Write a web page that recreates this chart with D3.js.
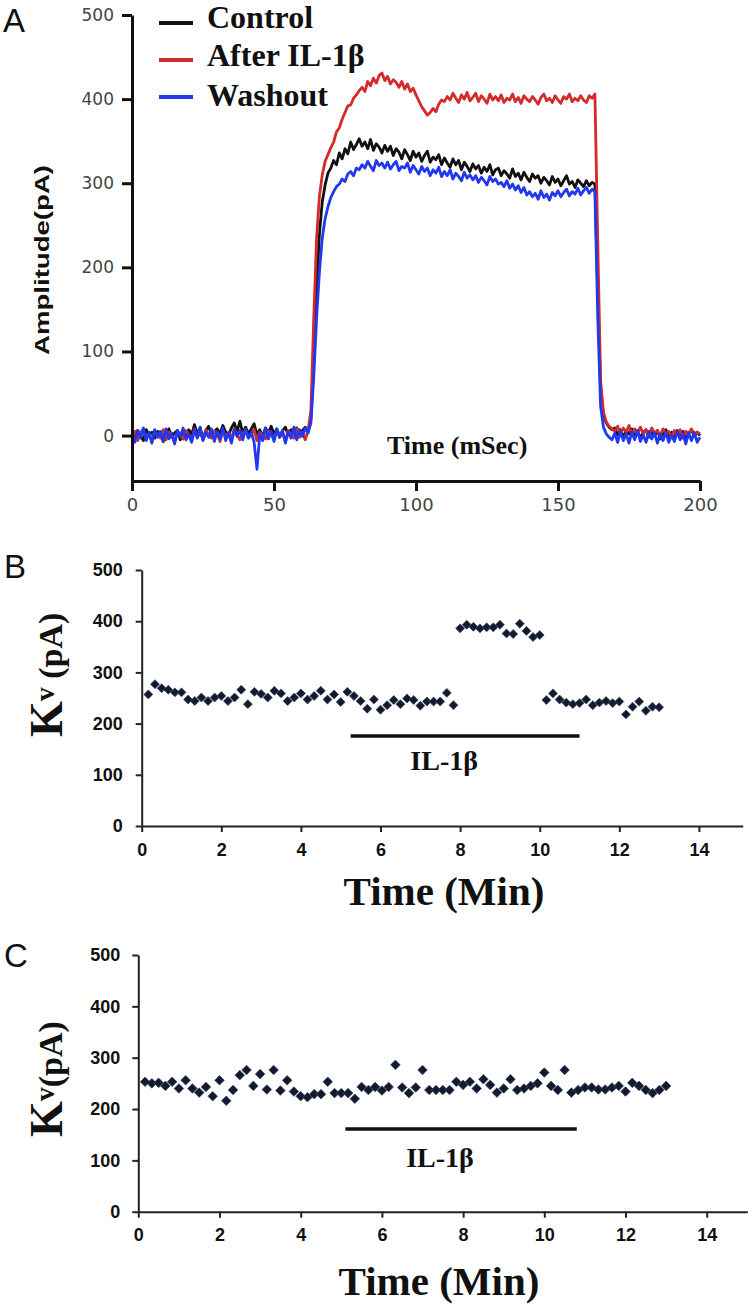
<!DOCTYPE html>
<html><head><meta charset="utf-8">
<script src="https://cdn.jsdelivr.net/npm/d3@7"></script>
<style>body{margin:0;background:#fff}</style>
</head><body>
<svg id="fig" width="751" height="1310" xmlns="http://www.w3.org/2000/svg"></svg>
<script>
// ---------- Panel A data (1 ms sampling) ----------
const timeMs = d3.range(0, 201, 1);
const controlPA = [
 3,-4,6,0,-6,7,1,4,-3,5, 2,-7,4,8,-2,3,6,-5,5,-1, 7,1,13,2,9,-4,6,11,0,5,
 8,2,12,4,1,9,15,5,17,3, 10,2,8,14,1,7,-1,9,3,11, 2,8,-2,6,10,1,7,3,9,2, 6,10,5,
 20,90,175,240,278,298,312,
 318,327,322,336,329,341,335,349,340,346, 353,344,349,341,352,339,347,343,336,345,
 338,344,333,341,337,329,340,334,327,338, 331,336,326,333,338,325,331,328,334,322,
 330,324,319,329,322,327,316,325,320,314, 323,317,321,312,319,314,322,310,316,318,
 309,315,311,306,317,308,312,304,313,307, 302,311,306,309,300,307,303,298,308,301,
 305,297,303,309,299,302,295,304,300,296, 303,297,301,299,
 170,55,25,15,10,7,
 9,1,7,-2,6,2,8,-1,5,-3, 4,7,-2,5,0,6,-4,3,7,-1, 4,-3,6,0,5,-4,3,7,-1,4,0
];
const afterIL1bPA = [
 -2,5,-6,3,8,-4,2,-7,6,1, -3,7,-5,4,0,-8,5,2,-4,6, 1,-6,8,-2,4,-5,7,0,-3,5,
 2,-7,6,-1,4,-4,8,1,-5,3, 6,-3,2,7,-6,4,0,-4,5,2, -5,7,-1,3,-6,6,1,-3,8,-2, 4,-5,6,
 30,140,235,285,310,326,334,
 342,349,361,366,376,384,392,393,401,405, 410,414,409,421,416,425,419,428,431,422,
 427,418,423,420,414,421,412,418,409,413, 405,398,391,386,381,384,389,385,394,399,
 397,403,399,407,401,396,405,400,408,398, 402,407,397,404,400,395,406,399,403,398,
 405,396,401,399,406,397,402,395,404,400, 397,403,399,394,402,406,398,401,396,404,
 399,395,403,400,406,397,401,398,404,399, 396,404,401,406,
 230,65,28,16,11,8,
 5,11,2,9,4,12,1,8,3,10, 2,7,-1,9,3,6,0,8,2,5, -2,6,1,7,-3,5,2,8,-1,4,2
];
const washoutPA = [
 1,-8,6,-3,9,-6,4,-9,7,-2, 5,-7,8,-4,3,-10,6,-1,9,-5, 2,-8,7,-3,10,-6,4,-2,8,-7,
 5,-4,9,-6,3,-9,7,-1,6,-5, 8,-3,4,-8,-40,2,-6,9,-4,5, -7,8,-2,6,-9,4,-3,10,-5,7, -1,9,3,
 15,70,140,195,235,258,272,
 283,290,296,299,305,302,311,314,309,318, 316,322,318,326,320,315,327,321,324,318,
 325,317,322,326,315,320,318,324,313,321, 316,311,320,314,318,309,316,312,319,308,
 314,309,316,305,312,308,303,313,306,310, 304,309,301,307,303,298,308,302,305,299,
 301,296,303,294,299,292,297,289,295,286, 290,284,288,281,291,283,287,280,289,285,
 291,284,289,293,285,290,287,294,286,291, 295,288,293,290,
 140,35,10,2,-2,-5,
 3,-8,5,-6,2,-9,4,-5,6,-7, 1,-8,5,-4,3,-9,2,-6,4,-8, 0,-7,5,-5,2,-10,3,-6,4,-8,-2
];
const traceNames = ["Control", "After IL-1β", "Washout"];
const traceColors = ["#111111", "#d42a2a", "#2038f0"];
const ampTicks = [0, 100, 200, 300, 400, 500];
const msTicks = [0, 50, 100, 150, 200];

// ---------- Panels B & C data (one sweep every 10 s) ----------
const kvTicks = [0, 100, 200, 300, 400, 500];
const minTicks = [0, 2, 4, 6, 8, 10, 12, 14];
const kvB = [
 257,277,269,266,261,261,247,244,251,244,251,254,244,251,266,238,262,258,251,264,
 259,244,251,259,247,254,264,247,257,242,262,254,244,229,247,227,236,246,238,249,
 246,235,243,243,243,260,236,
 386,393,389,386,388,388,393,376,375,395,381,369,373,
 246,259,247,241,238,240,247,236,241,244,240,243,218,233,243,225,233,232
];
const kvC = [
 253,250,251,245,253,240,256,240,232,243,225,256,216,237,266,276,245,268,238,276,
 236,256,234,225,223,229,229,253,231,231,231,220,243,237,243,236,243,286,242,231,
 242,276,237,237,
 237,237,253,247,253,240,258,247,232,240,258,237,240,245,250,271,245,237,276,232,
 237,242,242,238,238,242,245,234,251,245,237,231,237,245
];
const minB = kvB.map((_, i) => (i + 1) / 6);
const minC = kvC.map((_, i) => (i + 1) / 6);
const il1bBarB = [5.25, 11.0];   // minutes
const il1bBarC = [5.1, 10.8];
const il1bLevelB = 176;          // pA level of the bar
const il1bLevelC = 161;

// ---------- drawing ----------
const svg = d3.select("#fig");
svg.append("rect").attr("width", 751).attr("height", 1310).attr("fill", "#fff");

const serif = "'Liberation Serif','Times New Roman',serif";
const sans = "'Liberation Sans',Arial,sans-serif";

function panelLetter(txt, x, y) {
  svg.append("text").attr("x", x).attr("y", y).text(txt)
    .attr("font-family", sans).attr("font-size", 33).attr("fill", "#111");
}

// ===== Panel A =====
const xA = d3.scaleLinear().domain([0, 200]).range([132, 700]);
const yA = d3.scaleLinear().domain([-54, 500]).range([481, 15]);
const gA = svg.append("g");

const lineA = d3.line().x((d, i) => xA(timeMs[i])).y(d => yA(d));
[controlPA, afterIL1bPA, washoutPA].forEach((arr, k) => {
  gA.append("path").datum(arr).attr("d", lineA)
    .attr("fill", "none").attr("stroke", traceColors[k])
    .attr("stroke-width", 2.8).attr("stroke-linejoin", "round");
});

const axYA = gA.append("g").attr("transform", `translate(${xA(0)},0)`)
  .call(d3.axisLeft(yA).tickValues(ampTicks).tickSize(10).tickSizeOuter(0).tickPadding(8));
const axXA = gA.append("g").attr("transform", `translate(0,${yA(-54)})`)
  .call(d3.axisBottom(xA).tickValues(msTicks).tickSize(10).tickSizeOuter(0).tickPadding(7));
[axYA, axXA].forEach(ax => {
  ax.select(".domain").attr("stroke", "#111").attr("stroke-width", 3);
  ax.selectAll(".tick line").attr("stroke", "#111").attr("stroke-width", 3);
});
axYA.selectAll("text").attr("font-family", "'DejaVu Sans',Verdana,sans-serif")
  .attr("font-size", 17).attr("fill", "#444");
axXA.selectAll("text").attr("font-family", "'DejaVu Sans',Verdana,sans-serif")
  .attr("font-size", 18).attr("fill", "#444");

gA.append("text").attr("transform", "translate(49,260) rotate(-90)")
  .attr("text-anchor", "middle").attr("font-family", sans).attr("font-weight", "bold")
  .attr("font-size", 20).attr("textLength", 190).attr("lengthAdjust", "spacingAndGlyphs")
  .attr("fill", "#111").text("Amplitude(pA)");

gA.append("text").attr("x", 387).attr("y", 454).attr("font-family", serif)
  .attr("font-weight", "bold").attr("font-size", 26).attr("fill", "#111").text("Time (mSec)");

// legend
const legY = [23, 60, 97], legTextY = [28, 66, 106];
traceNames.forEach((nm, k) => {
  gA.append("line").attr("x1", 159).attr("x2", 193).attr("y1", legY[k]).attr("y2", legY[k])
    .attr("stroke", traceColors[k]).attr("stroke-width", 4);
  gA.append("text").attr("x", 207).attr("y", legTextY[k]).attr("font-family", serif)
    .attr("font-weight", "bold").attr("font-size", 32).attr("fill", "#111").text(nm);
});
panelLetter("A", 3, 32);

// ===== Panels B & C =====
function scatterPanel(opt) {
  const g = svg.append("g");
  const x = d3.scaleLinear().domain(opt.xDom).range(opt.xRange);
  const y = d3.scaleLinear().domain([0, 500]).range(opt.yRange);
  const ay = g.append("g").attr("transform", `translate(${x(0)},0)`)
    .call(d3.axisLeft(y).tickValues(kvTicks).tickSize(6).tickSizeOuter(0).tickPadding(opt.padY));
  const ax = g.append("g").attr("transform", `translate(0,${y(0)})`)
    .call(d3.axisBottom(x).tickValues(minTicks).tickSize(6).tickSizeOuter(0).tickPadding(opt.padX));
  [ay, ax].forEach(a => {
    a.select(".domain").attr("stroke", "#222").attr("stroke-width", 2);
    a.selectAll(".tick line").attr("stroke", "#222").attr("stroke-width", 2);
    a.selectAll("text").attr("font-family", sans).attr("font-weight", "bold")
      .attr("font-size", 18).attr("fill", "#111");
  });
  // treatment bar
  g.append("line").attr("x1", x(opt.bar[0])).attr("x2", x(opt.bar[1]))
    .attr("y1", y(opt.barLevel)).attr("y2", y(opt.barLevel))
    .attr("stroke", "#111").attr("stroke-width", 3.5);
  g.append("text").attr("x", x(opt.barLabelMin)).attr("y", y(opt.barLevel) + opt.barLabelDy)
    .attr("text-anchor", "middle").attr("font-family", serif).attr("font-weight", "bold")
    .attr("font-size", 28).attr("fill", "#111").text("IL-1β");
  // diamonds
  const sym = d3.symbol().type(d3.symbolSquare).size(opt.symSize);
  g.selectAll("path.pt").data(opt.vals).join("path").attr("class", "pt")
    .attr("d", sym)
    .attr("transform", (d, i) => `translate(${x(opt.times[i])},${y(d)}) rotate(45)`)
    .attr("fill", "#121a2c").attr("stroke", "#34446a").attr("stroke-width", 0.7);
  // axis title
  g.append("text").attr("x", opt.titleX).attr("y", opt.titleY).attr("text-anchor", "middle")
    .attr("font-family", serif).attr("font-weight", "bold").attr("font-size", 41)
    .attr("fill", "#111").text("Time (Min)");
  // y label Kv (pA)
  const yl = g.append("text").attr("transform", `translate(62,${opt.kvStart}) rotate(-90)`)
    .attr("font-family", serif).attr("font-weight", "bold").attr("fill", "#111");
  yl.append("tspan").attr("font-size", 46).text("K");
  yl.append("tspan").attr("font-size", 28).attr("dy", -8).text("v");
  yl.append("tspan").attr("font-size", 34).attr("dy", 8).text(opt.kvRest);
  return { x, y };
}

scatterPanel({
  xDom: [0, 15.1], xRange: [141.7, 742.7], yRange: [826, 570],
  padY: 13, padX: 11, vals: kvB, times: minB, symSize: 40,
  bar: il1bBarB, barLevel: il1bLevelB, barLabelMin: 7.6, barLabelDy: 34,
  titleX: 444, titleY: 905, kvStart: 737, kvRest: " (pA)"
});
panelLetter("B", 4, 578);

scatterPanel({
  xDom: [0, 15], xRange: [138.3, 747.3], yRange: [1211.7, 955],
  padY: 12, padX: 11, vals: kvC, times: minC, symSize: 46,
  bar: il1bBarC, barLevel: il1bLevelC, barLabelMin: 7.43, barLabelDy: 38,
  titleX: 439, titleY: 1295, kvStart: 1137, kvRest: "(pA)"
});
panelLetter("C", 4, 967);
</script>
</body></html>
